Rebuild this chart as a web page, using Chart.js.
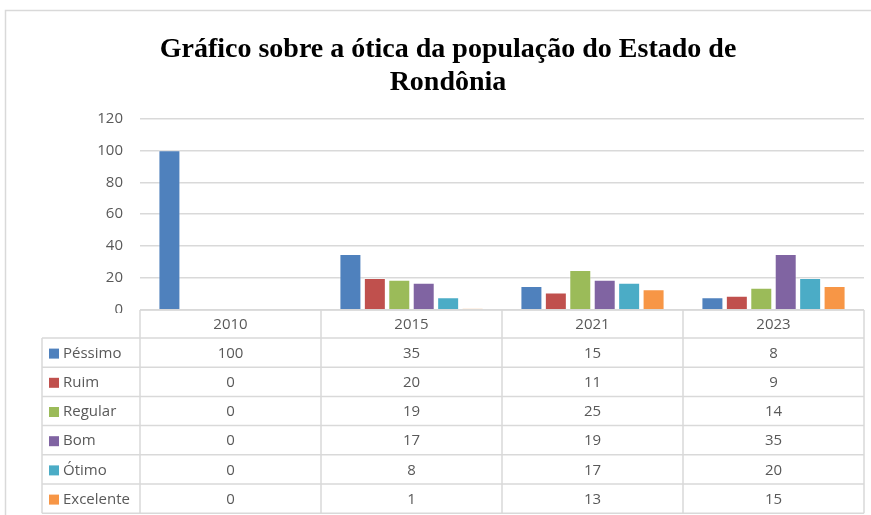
<!DOCTYPE html>
<html>
<head>
<meta charset="utf-8">
<script src="https://cdn.jsdelivr.net/npm/chart.js@4.4.1/dist/chart.umd.min.js"></script>
<style>
  html, body { margin: 0; padding: 0; background: #fff; }
  #wrap { width: 871px; height: 515px; position: relative; }
</style>
</head>
<body>
<div id="wrap"><canvas id="chart" width="871" height="515"></canvas></div>
<script>
const years = ['2010', '2015', '2021', '2023'];
const seriesNames = ['Péssimo', 'Ruim', 'Regular', 'Bom', 'Ótimo', 'Excelente'];
const pessimo = [100, 35, 15, 8];
const ruim = [0, 20, 11, 9];
const regular = [0, 19, 25, 14];
const bom = [0, 17, 19, 35];
const otimo = [0, 8, 17, 20];
const excelente = [0, 1, 13, 15];
const yMax = 120;
const yStep = 20;

const colors = ['#4F81BD', '#C0504D', '#9BBB59', '#8064A2', '#4BACC6', '#F79646'];
const seriesValues = [pessimo, ruim, regular, bom, otimo, excelente];
const textFont = '"Open Sans", "Liberation Sans", sans-serif';
const gridColor = '#d9d9d9';

// draws the outer frame and the data table under the plot
const dataTable = {
  id: 'dataTable',
  beforeDraw(chart) {
    const ctx = chart.ctx;
    ctx.save();
    ctx.strokeStyle = gridColor;
    ctx.lineWidth = 1.5;
    ctx.strokeRect(5.5, 10.5, 1000, 1000);
    ctx.restore();
  },
  afterDraw(chart) {
    const ctx = chart.ctx;
    const x = chart.scales.x;
    const area = chart.chartArea;
    const top = area.bottom;
    const headerBottom = top + 28;
    const rowH = 29.2;
    const leftEdge = 42;
    const n = years.length;
    const catW = (area.right - area.left) / n;
    const tableBottom = headerBottom + rowH * seriesNames.length;

    ctx.save();
    // hide the lower part of the "0" tick like the original
    ctx.fillStyle = '#fff';
    ctx.fillRect(20, top + 3, area.left - 21, headerBottom - top - 3);

    ctx.strokeStyle = gridColor;
    ctx.lineWidth = 1.5;
    ctx.beginPath();
    ctx.moveTo(area.left, top);
    ctx.lineTo(area.right, top);
    for (let r = 0; r <= seriesNames.length; r++) {
      const y = headerBottom + r * rowH;
      ctx.moveTo(leftEdge, y);
      ctx.lineTo(area.right, y);
    }
    ctx.moveTo(leftEdge, headerBottom);
    ctx.lineTo(leftEdge, tableBottom);
    for (let c = 0; c <= n; c++) {
      const cx = area.left + c * catW;
      ctx.moveTo(cx, top);
      ctx.lineTo(cx, tableBottom);
    }
    ctx.stroke();

    ctx.fillStyle = '#595959';
    ctx.font = '15px ' + textFont;
    ctx.textAlign = 'center';
    ctx.textBaseline = 'middle';
    years.forEach((yr, i) => {
      ctx.fillText(yr, x.getPixelForValue(i), (top + headerBottom) / 2 + 1);
    });

    chart.data.datasets.forEach((ds, r) => {
      const cy = headerBottom + r * rowH + rowH / 2 + 1;
      ctx.fillStyle = ds.backgroundColor;
      ctx.fillRect(49, cy - 5, 10, 10);
      ctx.fillStyle = '#595959';
      ctx.textAlign = 'left';
      ctx.fillText(ds.label, 63, cy);
      ctx.textAlign = 'center';
      ds.data.forEach((v, i) => {
        ctx.fillText(String(v), x.getPixelForValue(i), cy);
      });
    });
    ctx.restore();
  }
};

new Chart(document.getElementById('chart').getContext('2d'), {
  type: 'bar',
  data: {
    labels: years,
    datasets: seriesNames.map((name, i) => ({
      label: name,
      data: seriesValues[i],
      backgroundColor: colors[i],
      borderColor: 'rgba(255,255,255,0.35)',
      borderWidth: 1,
      categoryPercentage: 0.81,
      barPercentage: 0.9
    }))
  },
  options: {
    responsive: false,
    animation: false,
    devicePixelRatio: 1,
    layout: {
      padding: { left: 32, right: 7, top: 0, bottom: 205 }
    },
    plugins: {
      legend: { display: false },
      tooltip: { enabled: false },
      title: {
        display: true,
        text: ['Gráfico sobre a ótica da população do Estado de', 'Rondônia'],
        color: '#000',
        font: { family: '"Liberation Serif", "Times New Roman", serif', size: 28, weight: 'bold', lineHeight: 1.15 },
        padding: { top: 34, bottom: 20 }
      }
    },
    scales: {
      x: { display: false },
      y: {
        min: 0,
        max: yMax,
        afterFit: (scale) => { scale.width = 108; },
        ticks: {
          stepSize: yStep,
          color: '#595959',
          padding: 17,
          font: { family: textFont, size: 15 }
        },
        grid: { color: gridColor, lineWidth: 1.5, drawTicks: false },
        border: { display: false }
      }
    }
  },
  plugins: [dataTable]
});
</script>
</body>
</html>
